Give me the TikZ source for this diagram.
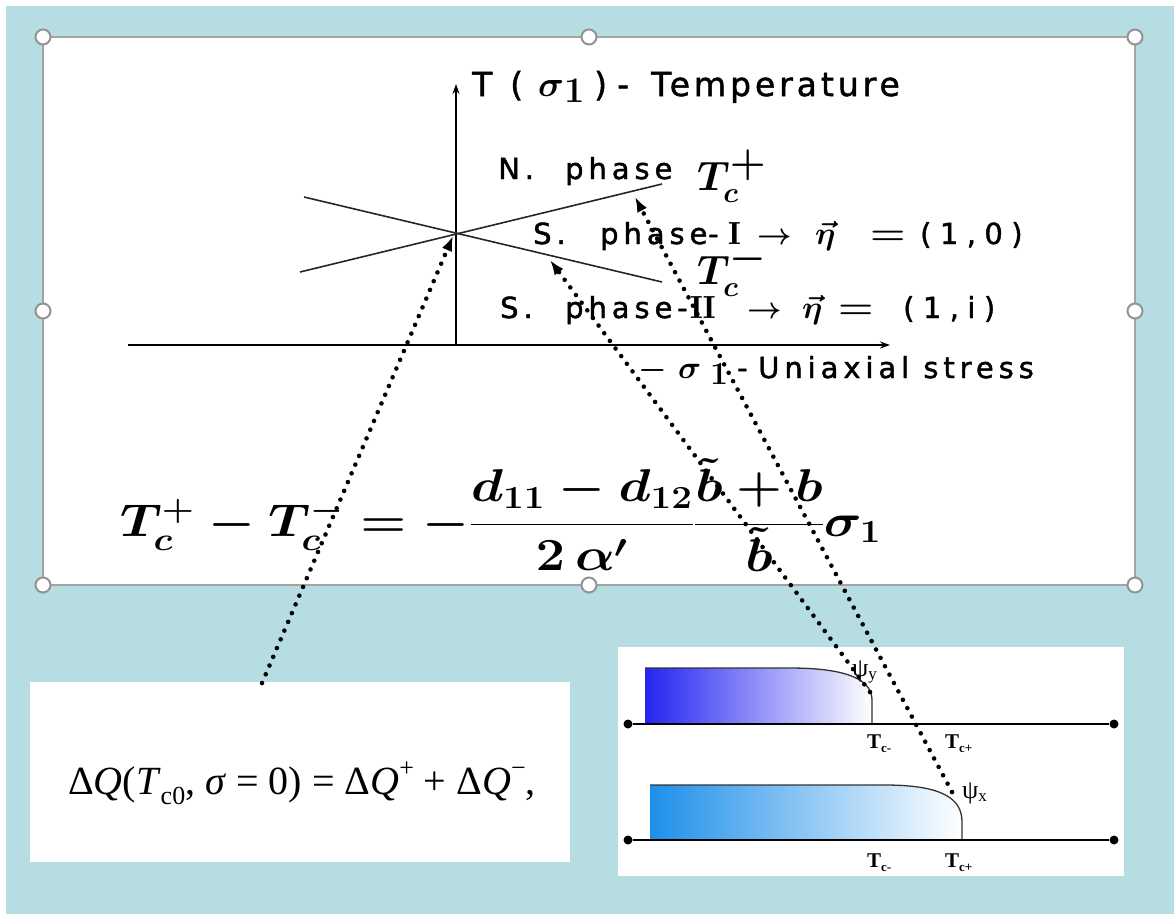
\RequirePackage{fix-cm}
\documentclass[tikz,border=0pt]{standalone}
\usepackage{fontspec}
\usepackage{amsmath}
\newfontfamily\dvT[LetterSpace=12,FakeBold=1.5]{DejaVu Sans}
\newfontfamily\dvL[LetterSpace=17,FakeBold=1.5]{DejaVu Sans}
\newfontfamily\dvW[LetterSpace=29,FakeBold=1.5]{DejaVu Sans}
\newfontfamily\ls{Liberation Serif}
\usetikzlibrary{arrows.meta}
\newcommand{\lpiece}[2]{\makebox[#1][l]{#2}}
\definecolor{bgteal}{HTML}{B6DDE1}
\definecolor{frameg}{HTML}{A3A3A3}
\definecolor{blueA}{HTML}{2424F2}
\definecolor{blueB}{HTML}{1E8FE9}
\begin{document}
\begin{tikzpicture}[x=1pt,y=-1pt,
  mainbox/.style={draw=frameg,line width=2pt,fill=white,inner sep=0pt,outer sep=0pt},
  wbox/.style={fill=white,inner sep=0pt,outer sep=0pt},
  handle/.style={circle,draw=frameg!90!black,line width=2pt,fill=white,minimum size=15pt,inner sep=0pt},
  axisline/.style={line width=1.3pt,-{Stealth[length=10pt,width=7pt]}},
  phaseline/.style={line width=1.6pt,black!85},
  dotarrow/.style={line width=4.6pt,dash pattern=on 0pt off 9.5pt,line cap=round,
     -{Latex[length=15pt,width=11pt]}},
  lbl/.style={inner sep=0pt,anchor=base west},
  slbl/.style={inner sep=0pt,anchor=base west,font=\fontsize{29}{29}\selectfont},
  gline/.style={line width=1.6pt},
  endpt/.style={circle,fill=black,minimum size=9pt,inner sep=0pt},
  tlab/.style={inner sep=0pt,anchor=base west,font=\ls\bfseries\fontsize{21}{21}\selectfont},
]
\useasboundingbox (0,0) rectangle (1174,914);
\fill[white] (0,0) rectangle (1174,914);
\fill[bgteal] (6,6) rectangle (1174,914);

% main panel
\node[mainbox,minimum width=1092pt,minimum height=548pt] (main) at (589,311) {};
\foreach \a in {north west,north,north east,east,south east,south,south west,west}
  \node[handle] (h-\a) at (main.\a) {};

% axes
\coordinate (O) at (456,345);
\coordinate (ytop) at (456,84);
\coordinate (xl) at (128,345);
\coordinate (xr) at (890,345);
\draw[axisline] (O) -- (ytop);
\draw[axisline] (xl) -- (xr);

% phase lines
\coordinate (p1a) at (300,272);
\coordinate (p1b) at (662,184);
\coordinate (p2a) at (304,197);
\coordinate (p2b) at (662,282);
\draw[phaseline] (p1a) -- (p1b);
\draw[phaseline] (p2a) -- (p2b);

% labels
\boldmath
\node[lbl,font=\dvT\fontsize{33}{33}\selectfont] (tlabel) at (472,96)
  {\lpiece{38pt}{T}\lpiece{28pt}{(}\lpiece{26pt}{\fontsize{36}{36}\selectfont$\sigma$}\lpiece{30pt}{\raisebox{-6pt}{\fontsize{36}{36}\selectfont$\mathbf{1}$}}\lpiece{23pt}{)}\lpiece{34pt}{-}Temperature};
\node[slbl] (nph) at (498,179) {\lpiece{67pt}{\dvL N.}{\dvL phase}};
\node[lbl,font=\fontsize{41}{41}\selectfont] (tcp) at (697,190) {$T_c^{\textstyle +}$};
\node[slbl] (sph1) at (533,244)
  {\lpiece{67pt}{\dvL S.}\lpiece{108pt}{\dvL phase}\lpiece{20pt}{\dvL -}\lpiece{29pt}{\fontsize{32}{32}\selectfont$\mathrm{I}$}\lpiece{58pt}{\fontsize{30}{30}\selectfont$\rightarrow$}\lpiece{55pt}{\fontsize{32}{32}\selectfont$\vec{\eta}$}\lpiece{50pt}{\scalebox{1.35}[1.15]{\fontsize{30}{30}\selectfont$=$}}{\dvW (1,0)}};
\node[lbl,font=\fontsize{41}{41}\selectfont] (tcm) at (697,284) {$T_c^{\textstyle -}$};
\node[slbl] (sph2) at (500,318)
  {\lpiece{65pt}{\dvL S.}\lpiece{112pt}{\dvL phase}\lpiece{13pt}{\dvL -}\lpiece{57pt}{\fontsize{32}{32}\selectfont$\mathrm{II}$}\lpiece{55pt}{\fontsize{30}{30}\selectfont$\rightarrow$}\lpiece{36pt}{\fontsize{32}{32}\selectfont$\vec{\eta}$}\lpiece{65pt}{\scalebox{1.35}[1.15]{\fontsize{30}{30}\selectfont$=$}}{\dvW (1,i)}};
\node[slbl] (stress) at (638,378)
  {\lpiece{40pt}{\fontsize{32}{32}\selectfont$-$}\lpiece{32pt}{\fontsize{32}{32}\selectfont$\sigma$}\lpiece{27pt}{\raisebox{-6pt}{\fontsize{32}{32}\selectfont$\mathbf{1}$}}\lpiece{21pt}{\dvL -}{\dvL Uniaxial stress}};

% big formula
\node[lbl,font=\fontsize{46}{46}\selectfont] (formula) at (120,536)
  {\scalebox{1.14}[1]{$T_c^+-T_c^-=-\dfrac{d_{11}-d_{12}}{2\,\alpha'}\dfrac{\tilde b+b}{\tilde b}\sigma_1$}};
\unboldmath

% bottom left box
\node[wbox,minimum width=540pt,minimum height=180pt] (qbox) at (300,772) {};
\node[lbl,font=\ls\fontsize{40}{40}\selectfont] (qform) at (68,794)
  {Δ\textit{Q}(\textit{T}\raisebox{-0.25em}{\fontsize{26}{26}\selectfont c0}, \textit{σ} = 0) = Δ\textit{Q}\raisebox{0.45em}{\fontsize{26}{26}\selectfont +} + Δ\textit{Q}\raisebox{0.45em}{\fontsize{26}{26}\selectfont −},};

% bottom right box
\node[wbox,minimum width=506pt,minimum height=229pt] (gbox) at (871,761.5) {};
\shade[left color=blueA,right color=white]
  (645,724) -- (645,668) -- (790,668) .. controls (848,668) and (872,680) .. (872,700) -- (872,724) -- cycle;
\draw[line width=1.3pt,black!80] (645,668) -- (790,668) .. controls (848,668) and (872,680) .. (872,700) -- (872,724);
\shade[left color=blueB,right color=white]
  (650,840) -- (650,785) -- (885,785) .. controls (945,785) and (962,800) .. (962,822) -- (962,840) -- cycle;
\draw[line width=1.3pt,black!80] (650,785) -- (885,785) .. controls (945,785) and (962,800) .. (962,822) -- (962,840);

\node[endpt] (e1l) at (628,724) {};
\node[endpt] (e1r) at (1114,724) {};
\node[endpt] (e2l) at (628,840) {};
\node[endpt] (e2r) at (1114,840) {};
\draw[gline] (e1l) -- (e1r);
\draw[gline] (e2l) -- (e2r);

\node[tlab] (t1m) at (867,748) {T\raisebox{-4pt}{\fontsize{13}{13}\selectfont c-}};
\node[tlab] (t1p) at (945,748) {T\raisebox{-4pt}{\fontsize{13}{13}\selectfont c+}};
\node[tlab] (t2m) at (867,867) {T\raisebox{-4pt}{\fontsize{13}{13}\selectfont c-}};
\node[tlab] (t2p) at (945,867) {T\raisebox{-4pt}{\fontsize{13}{13}\selectfont c+}};
\node[lbl,font=\ls\fontsize{26}{26}\selectfont] (psiy) at (852,676) {ψ\raisebox{-3pt}{\fontsize{17}{17}\selectfont y}};
\node[lbl,font=\ls\fontsize{26}{26}\selectfont] (psix) at (962,798) {ψ\raisebox{-3pt}{\fontsize{17}{17}\selectfont x}};

% dotted arrows
\coordinate (s1) at (262,683);
\coordinate (d1) at (453,236);
\coordinate (s2) at (870,692);
\coordinate (d2) at (550,260);
\coordinate (s3) at (952,792);
\coordinate (d3) at (635,197);
\draw[dotarrow] (s1) -- (d1);
\draw[dotarrow] (s2) -- (d2);
\draw[dotarrow] (s3) -- (d3);
\end{tikzpicture}
\end{document}
